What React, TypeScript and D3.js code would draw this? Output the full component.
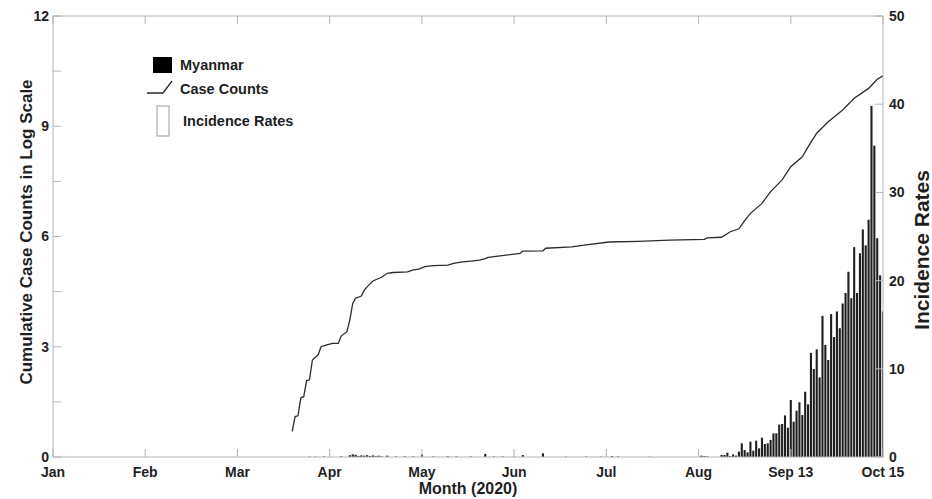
import * as d3 from 'd3';

// x positions are day-of-year (Jan 1 = 0); the axis puts a label every 32 days
const tickDays = [0, 32, 64, 96, 128, 160, 192, 224, 256, 288];
const tickLabels = ['Jan', 'Feb', 'Mar', 'Apr', 'May', 'Jun', 'Jul', 'Aug', 'Sep 13', 'Oct 15'];

const leftTicks = [0, 3, 6, 9, 12];
const rightTicks = [0, 10, 20, 30, 40, 50];

// cumulative case counts, ln scale: [day, value]
const caseCounts: [number, number][] = [
  [83, 0.70], [84, 1.10], [85, 1.12], [86, 1.61], [87, 1.64], [88, 2.08], [89, 2.10],
  [90, 2.64], [92, 2.78], [93, 3.00], [95, 3.05], [97, 3.09], [99, 3.09], [100, 3.29],
  [102, 3.41], [103, 3.73], [104, 4.18], [105, 4.32], [107, 4.38], [108, 4.54], [110, 4.71],
  [111, 4.79], [114, 4.89], [116, 5.00], [118, 5.02], [123, 5.04], [125, 5.09], [127, 5.11],
  [129, 5.18], [132, 5.21], [137, 5.22], [139, 5.27], [142, 5.31], [145, 5.33], [148, 5.36],
  [150, 5.40], [151, 5.43], [162, 5.54], [163, 5.60], [170, 5.61], [171, 5.68], [180, 5.72],
  [185, 5.77], [193, 5.85], [203, 5.87], [214, 5.90], [226, 5.92], [227, 5.96], [232, 5.98],
  [235, 6.13], [238, 6.21], [240, 6.43], [242, 6.63], [246, 6.90], [249, 7.22], [253, 7.54],
  [256, 7.90], [260, 8.17], [262, 8.44], [265, 8.81], [269, 9.12], [274, 9.44], [278, 9.76],
  [283, 10.03], [286, 10.28], [288, 10.37],
];

// sparse daily incidence rates before mid-August: [day, rate]
const earlyRates: [number, number][] = [
  [89, 0.04], [91, 0.04], [94, 0.06], [100, 0.08], [103, 0.2], [104, 0.3], [105, 0.25],
  [106, 0.12], [107, 0.18], [108, 0.15], [109, 0.2], [110, 0.12], [111, 0.18], [112, 0.1],
  [113, 0.15], [114, 0.08], [116, 0.15], [119, 0.06], [122, 0.08], [125, 0.06], [128, 0.28],
  [132, 0.05], [137, 0.08], [140, 0.06], [145, 0.06], [150, 0.35], [153, 0.05], [156, 0.05],
  [160, 0.04], [163, 0.22], [170, 0.42], [178, 0.04], [185, 0.05], [190, 0.04], [194, 0.1],
  [196, 0.06], [207, 0.04], [225, 0.15], [226, 0.1], [227, 0.08],
];

// daily incidence rates from day 232 to day 288
const lateStart = 232;
const lateRates = [
  0.23, 0.23, 0.49, 0.11, 0.3, 0.15, 0.6, 1.55, 0.79, 0.53,
  1.74, 0.72, 1.85, 0.98, 2.19, 1.47, 1.55, 1.93, 2.68, 2.68,
  3.67, 3.74, 4.72, 3.32, 6.46, 4.0, 5.25, 6.2, 4.76, 7.4,
  5.97, 11.8, 9.98, 12.2, 9.03, 16.0, 12.7, 11.0, 16.2, 13.6,
  16.5, 14.6, 17.4, 18.6, 21.0, 18.0, 23.8, 18.6, 23.1, 25.8,
  24.0, 26.9, 39.8, 35.3, 24.8, 20.6, 16.5,
];

const W = 932;
const H = 499;
const M = { left: 53, right: 883, top: 16, bottom: 457 };
const FONT = '"Liberation Sans", Arial, sans-serif';
const AXIS = '#b4b4b4';
const INK = '#1f1f1f';

const App = () => {
  const x = d3.scaleLinear().domain([0, 288]).range([M.left, M.right]);
  const yL = d3.scaleLinear().domain([0, 12]).range([M.bottom, M.top]);
  const yR = d3.scaleLinear().domain([0, 50]).range([M.bottom, M.top]);

  const bars: [number, number][] = [
    ...earlyRates,
    ...lateRates.map((v, i) => [lateStart + i, v] as [number, number]),
  ];
  const barW = 2.1;

  const line = d3.line<[number, number]>()
    .x(d => x(d[0]))
    .y(d => yL(d[1]));

  const minorLeft = d3.range(0, 12.01, 1.5);
  const tl = 8;

  return (
    <div style={{ position: 'absolute', left: 0, top: 0 }}>
      <svg width={W} height={H} style={{ display: 'block', background: '#fff' }} fontFamily={FONT}>
        <defs>
          <clipPath id="plot">
            <rect x={M.left} y={M.top} width={M.right - M.left} height={M.bottom - M.top} />
          </clipPath>
        </defs>

        {/* bars */}
        <g clipPath="url(#plot)">
          {bars.map(([d, v], i) => (
            <rect key={i} x={x(d) - barW / 2} y={yR(v)} width={barW}
              height={yR(0) - yR(v)} fill={INK} />
          ))}
        </g>

        {/* case count curve */}
        <path d={line(caseCounts) ?? ''} fill="none" stroke="#2b2b2b" strokeWidth={1.3} />

        {/* frame */}
        <rect x={M.left} y={M.top} width={M.right - M.left} height={M.bottom - M.top}
          fill="none" stroke={AXIS} strokeWidth={1} />

        {/* left ticks */}
        {minorLeft.map(v => (
          <line key={'l' + v} x1={M.left} x2={M.left + tl} y1={yL(v)} y2={yL(v)} stroke={AXIS} />
        ))}
        {leftTicks.map(v => (
          <text key={'lt' + v} x={M.left - 4} y={yL(v)} dy="0.35em" textAnchor="end"
            fontSize={14} fontWeight="bold" fill={INK}>{v}</text>
        ))}

        {/* right ticks */}
        {rightTicks.map(v => (
          <g key={'r' + v}>
            <line x1={M.right - tl} x2={M.right} y1={yR(v)} y2={yR(v)} stroke={AXIS} />
            <text x={M.right + 6} y={yR(v)} dy="0.35em" textAnchor="start"
              fontSize={14} fontWeight="bold" fill={INK}>{v}</text>
          </g>
        ))}

        {/* bottom and top ticks */}
        {tickDays.map((d, i) => (
          <g key={'x' + d}>
            <line x1={x(d)} x2={x(d)} y1={M.bottom} y2={M.bottom - tl} stroke={AXIS} />
            <line x1={x(d)} x2={x(d)} y1={M.top} y2={M.top + tl} stroke={AXIS} />
            <text x={x(d)} y={477} textAnchor="middle" fontSize={14} fontWeight="bold"
              fill={INK}>{tickLabels[i]}</text>
          </g>
        ))}

        {/* axis titles */}
        <text x={(M.left + M.right) / 2} y={494} textAnchor="middle" fontSize={16}
          fontWeight="bold" fill={INK}>Month (2020)</text>
        <text transform={`translate(32, 232) rotate(-90)`} textAnchor="middle" fontSize={17}
          fontWeight="bold" fill={INK}>Cumulative Case Counts in Log Scale</text>
        <text transform={`translate(929, 250) rotate(-90)`} textAnchor="middle" fontSize={21}
          fontWeight="bold" fill={INK}>Incidence Rates</text>

        {/* legend */}
        <rect x={153} y={57} width={19} height={16} fill="#000" />
        <text x={180} y={69.5} fontSize={14.5} fontWeight="bold" fill={INK}>Myanmar</text>
        <path d="M147,93 L163,93 L172,81" fill="none" stroke="#2b2b2b" strokeWidth={1.3} />
        <text x={180} y={94} fontSize={14.5} fontWeight="bold" fill={INK}>Case Counts</text>
        <rect x={157} y={106} width={12} height={30} fill="none" stroke="#9a9a9a" />
        <text x={183} y={126} fontSize={14.5} fontWeight="bold" fill={INK}>Incidence Rates</text>
      </svg>
    </div>
  );
};

export default App;
